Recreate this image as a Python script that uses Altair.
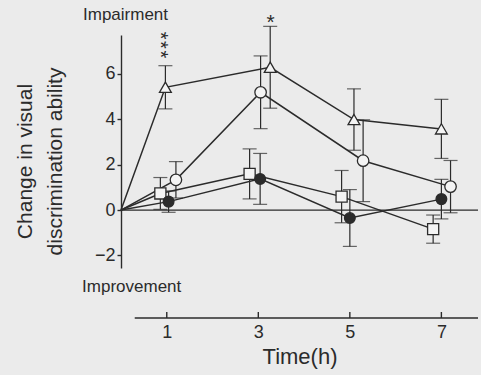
import altair as alt
import pandas as pd

# ---- data ----
# x positions as plotted (slightly staggered around 1, 3, 5, 7 h)
tri_x = [0, 0.97, 3.26, 5.09, 7.0]
tri_y = [0, 5.40, 6.28, 3.98, 3.57]
tri_e = [0, 0.95, 1.80, 1.35, 1.30]

oc_x = [0, 1.20, 3.05, 5.29, 7.20]
oc_y = [0, 1.33, 5.18, 2.17, 1.03]
oc_e = [0, 0.80, 1.60, 1.80, 1.15]

sq_x = [0, 0.86, 2.81, 4.82, 6.82]
sq_y = [0, 0.73, 1.59, 0.59, -0.84]
sq_e = [0, 0.70, 1.10, 1.15, 0.62]

fc_x = [0, 1.04, 3.04, 5.00, 7.00]
fc_y = [0, 0.37, 1.37, -0.35, 0.48]
fc_e = [0, 0.47, 1.12, 1.25, 0.87]

series_names = ["triangle", "open circle", "open square", "filled circle"]
x_ticks = [1, 3, 5, 7]
y_ticks = [-2, 0, 2, 4, 6]
x_axis_span = [0.3, 7.8]

note_text = ["Impairment", "Improvement"]
note_x = [-0.83, -0.85]
note_y = [8.58, -3.39]

# significance marks: "***" stacked above 1 h, "*" above 3 h
stack_text = ["*\u200a*\u200a*"]
stack_x = [0.86]
stack_y = [7.26]
star_text = ["*"]
star_x = [3.27]
star_y = [7.95]

INK = "#2b2b2b"
FONT = "Liberation Sans"
W, H = 357, 233

rows = []
for name, xs, ys, es in zip(series_names,
                            [tri_x, oc_x, sq_x, fc_x],
                            [tri_y, oc_y, sq_y, fc_y],
                            [tri_e, oc_e, sq_e, fc_e]):
    for i, (x, y, e) in enumerate(zip(xs, ys, es)):
        rows.append({"series": name, "order": i, "t": x, "v": y,
                     "lo": y - e, "hi": y + e, "origin": i == 0})
df = pd.DataFrame(rows)
pts = df[~df["origin"]]

xs = alt.Scale(domain=[0, 7.8], nice=False, zero=False)
ys = alt.Scale(domain=[-2.55, 7.7], nice=False, zero=False)

base = alt.Chart(df)

zero_line = alt.Chart(pd.DataFrame({"z": [0]})).mark_rule(
    color=INK, strokeWidth=1.3).encode(y=alt.Y("z:Q", scale=ys))

lines = base.mark_line(color=INK, strokeWidth=1.5).encode(
    x=alt.X("t:Q", scale=xs,
            axis=alt.Axis(values=x_ticks, domain=False, ticks=False, tickSize=0,
                          offset=50, labelPadding=5, labelFontSize=18,
                          labelColor=INK, labelFont=FONT, grid=False,
                          title="Time(h)", titleFont=FONT, titleFontSize=22,
                          titleFontWeight="normal", titleColor=INK,
                          titlePadding=5)),
    y=alt.Y("v:Q", scale=ys,
            axis=alt.Axis(values=y_ticks, domainColor=INK, domainWidth=1.4,
                          tickColor=INK, tickWidth=1.4, tickSize=4,
                          labelPadding=2, labelFontSize=18, labelColor=INK,
                          labelFont=FONT, grid=False,
                          title=["Change in visual", "discrimination ability"],
                          titleFont=FONT, titleFontSize=21,
                          titleFontWeight="normal", titleColor=INK,
                          titleLineHeight=30, titleAngle=-90,
                          titleAlign="center", titleBaseline="bottom",
                          titleX=-86, titleY=126)),
    detail="series:N",
    order="order:Q",
)

err = alt.Chart(pts).mark_rule(color=INK, strokeWidth=1.2).encode(
    x=alt.X("t:Q", scale=xs), y=alt.Y("lo:Q", scale=ys), y2="hi:Q")
cap_lo = alt.Chart(pts).mark_tick(orient="horizontal", size=14, thickness=1.2,
                                  color=INK).encode(
    x=alt.X("t:Q", scale=xs), y=alt.Y("lo:Q", scale=ys))
cap_hi = alt.Chart(pts).mark_tick(orient="horizontal", size=14, thickness=1.2,
                                  color=INK).encode(
    x=alt.X("t:Q", scale=xs), y=alt.Y("hi:Q", scale=ys))

marks = alt.Chart(pts).mark_point(filled=True, strokeWidth=1.3, opacity=1).encode(
    x=alt.X("t:Q", scale=xs),
    y=alt.Y("v:Q", scale=ys),
    shape=alt.Shape("series:N", legend=None,
                    scale=alt.Scale(domain=series_names,
                                    range=["triangle-up", "circle", "square", "circle"])),
    fill=alt.Fill("series:N", legend=None,
                  scale=alt.Scale(domain=series_names,
                                  range=["#f4f4f4", "#f4f4f4", "#f4f4f4", INK])),
    size=alt.Size("series:N", legend=None,
                  scale=alt.Scale(domain=series_names, range=[140, 115, 95, 100])),
    stroke=alt.value(INK),
)

xaxis_line = alt.Chart(pd.DataFrame({"a": [x_axis_span[0]], "b": [x_axis_span[1]]})
                       ).mark_rule(color=INK, strokeWidth=1.4).encode(
    x=alt.X("a:Q", scale=xs), x2="b:Q", y=alt.value(H + 50))
xaxis_ticks = alt.Chart(pd.DataFrame({"t": x_ticks})).mark_rule(
    color=INK, strokeWidth=1.4).encode(
    x=alt.X("t:Q", scale=xs), y=alt.value(H + 50), y2=alt.value(H + 44))

notes = alt.Chart(pd.DataFrame({"x": note_x, "y": note_y, "s": note_text})).mark_text(
    align="left", baseline="middle", font=FONT, fontSize=17, color=INK).encode(
    x=alt.X("x:Q", scale=xs), y=alt.Y("y:Q", scale=ys), text="s:N")

stack = alt.Chart(pd.DataFrame({"x": stack_x, "y": stack_y, "s": stack_text})).mark_text(
    align="center", baseline="middle", font=FONT, fontSize=20, angle=90,
    color=INK).encode(
    x=alt.X("x:Q", scale=xs), y=alt.Y("y:Q", scale=ys), text="s:N")

star = alt.Chart(pd.DataFrame({"x": star_x, "y": star_y, "s": star_text})).mark_text(
    align="center", baseline="alphabetic", font=FONT, fontSize=21,
    color=INK).encode(
    x=alt.X("x:Q", scale=xs), y=alt.Y("y:Q", scale=ys), text="s:N")

chart = alt.layer(zero_line, lines, err, cap_lo, cap_hi, marks,
                  xaxis_line, xaxis_ticks, notes, stack, star).properties(
    width=W, height=H,
    background="#ebebeb",
    padding={"left": 121, "top": 35, "right": 3, "bottom": 107},
    autosize=alt.AutoSizeParams(type="none"),
).configure_view(stroke=None)

chart.save("out.html", embed_options={"renderer": "svg", "actions": False})
